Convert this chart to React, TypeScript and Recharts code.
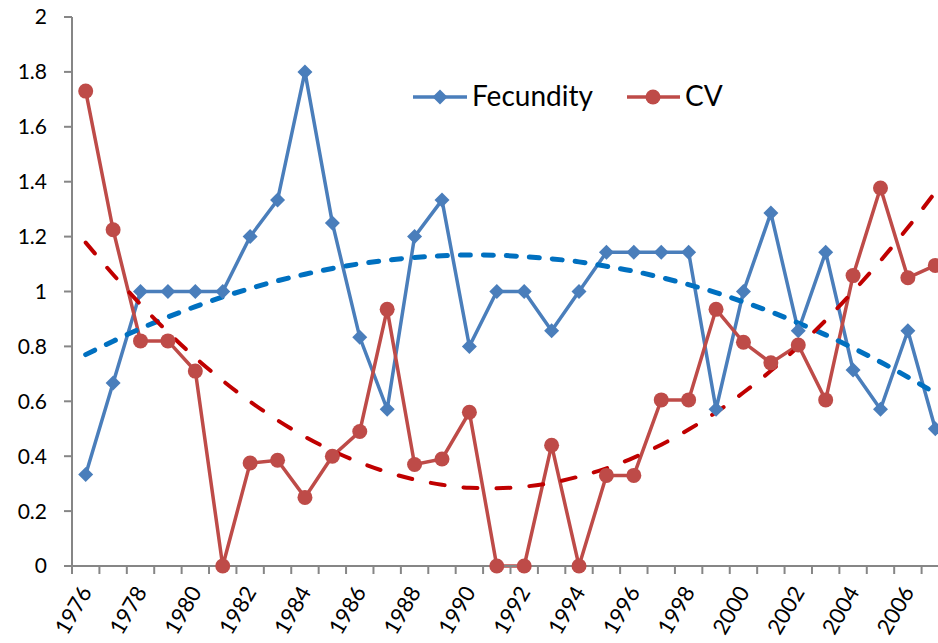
import React from "react";
import { LineChart, Line, XAxis, YAxis } from "recharts";

const YEARS = [
  1976, 1977, 1978, 1979, 1980, 1981, 1982, 1983, 1984, 1985, 1986, 1987, 1988, 1989, 1990, 1991,
  1992, 1993, 1994, 1995, 1996, 1997, 1998, 1999, 2000, 2001, 2002, 2003, 2004, 2005, 2006, 2007,
];

const FECUNDITY = [
  0.333, 0.667, 1.0, 1.0, 1.0, 1.0, 1.2, 1.333, 1.8, 1.25, 0.833, 0.571, 1.2, 1.333, 0.8, 1.0,
  1.0, 0.857, 1.0, 1.143, 1.143, 1.143, 1.143, 0.571, 1.0, 1.286, 0.857, 1.143, 0.714, 0.571, 0.857, 0.5,
];

const CV = [
  1.73, 1.225, 0.82, 0.82, 0.71, 0, 0.375, 0.385, 0.25, 0.4, 0.49, 0.935, 0.37, 0.39, 0.56, 0,
  0, 0.44, 0, 0.33, 0.33, 0.605, 0.605, 0.935, 0.815, 0.74, 0.805, 0.605, 1.058, 1.377, 1.05, 1.095,
];

// dashed trend lines
const FECUNDITY_TREND = [
  0.77, 0.819, 0.865, 0.907, 0.945, 0.98, 1.011, 1.039, 1.063, 1.084, 1.101, 1.114, 1.124, 1.13, 1.133, 1.132,
  1.127, 1.119, 1.108, 1.092, 1.074, 1.051, 1.025, 0.996, 0.962, 0.926, 0.885, 0.842, 0.794, 0.743, 0.688, 0.63,
];

const CV_TREND = [
  1.178, 1.062, 0.953, 0.852, 0.759, 0.675, 0.599, 0.531, 0.471, 0.42, 0.377, 0.342, 0.315, 0.296, 0.285, 0.283,
  0.289, 0.303, 0.326, 0.356, 0.395, 0.442, 0.497, 0.56, 0.632, 0.711, 0.799, 0.895, 1.0, 1.112, 1.233, 1.362,
];

const X_LABELS = [
  "1976", "1978", "1980", "1982", "1984", "1986", "1988", "1990",
  "1992", "1994", "1996", "1998", "2000", "2002", "2004", "2006",
];

const Y_TICKS = [0, 0.2, 0.4, 0.6, 0.8, 1, 1.2, 1.4, 1.6, 1.8, 2];

const BLUE = "#4A7EBB";
const RED = "#BE4B48";
const AXIS = "#868686";
const FONT = "Lato, 'Noto Sans', sans-serif";

const CHART_W = 949;
const CHART_H = 643;
const Y_AXIS_W = 72;
const BAND = (CHART_W - Y_AXIS_W) / YEARS.length;

const data = YEARS.map((year, i) => ({
  year,
  fecundity: FECUNDITY[i],
  cv: CV[i],
  fecTrend: FECUNDITY_TREND[i],
  cvTrend: CV_TREND[i],
}));

// tick marks sit between categories, like the original
const boundaries = [...YEARS.map((y) => y - 0.5), YEARS[YEARS.length - 1] + 0.5];

function YearTick({ x, y, payload }: any) {
  const label = String(payload.value + 0.5);
  if (!X_LABELS.includes(label)) return <g />;
  const tx = x + BAND / 2 + 7;
  const ty = y + 18;
  return (
    <text
      x={tx}
      y={ty}
      textAnchor="end"
      transform={`rotate(-60 ${tx} ${ty})`}
      fontSize={22}
      fontFamily={FONT}
      fill="#000"
    >
      {label}
    </text>
  );
}

function diamond(p: any) {
  const { cx, cy, index } = p;
  if (cx == null || cy == null) return <g key={index} />;
  const s = 7.5;
  return (
    <polygon
      key={index}
      points={`${cx},${cy - s} ${cx + s},${cy} ${cx},${cy + s} ${cx - s},${cy}`}
      fill={BLUE}
    />
  );
}

function LegendBox() {
  return (
    <svg
      width={330}
      height={40}
      style={{ position: "absolute", left: 410, top: 78, overflow: "visible" }}
    >
      <line x1={3} y1={19} x2={57} y2={19} stroke={BLUE} strokeWidth={3.5} />
      <polygon points="30,11.5 37.5,19 30,26.5 22.5,19" fill={BLUE} />
      <text x={62} y={28} fontSize={28} fontFamily={FONT} fill="#000">
        Fecundity
      </text>
      <line x1={217} y1={19} x2={270} y2={19} stroke={RED} strokeWidth={3.5} />
      <circle cx={243} cy={19} r={7.5} fill={RED} />
      <text x={275} y={28} fontSize={28} fontFamily={FONT} fill="#000">
        CV
      </text>
    </svg>
  );
}

export default function App() {
  return (
    <div
      style={{
        position: "fixed",
        left: 0,
        top: 0,
        width: 938,
        height: 643,
        overflow: "hidden",
        background: "#fff",
        fontFamily: FONT,
      }}
    >
      <LineChart width={CHART_W} height={CHART_H} data={data} margin={{ top: 17, right: 0, left: 0, bottom: 0 }}>
        <XAxis
          dataKey="year"
          type="number"
          domain={[YEARS[0] - 0.5, YEARS[YEARS.length - 1] + 0.5]}
          ticks={boundaries}
          interval={0}
          height={77}
          tickSize={8}
          tickMargin={0}
          tick={<YearTick />}
          axisLine={{ stroke: AXIS, strokeWidth: 2 }}
          tickLine={{ stroke: AXIS, strokeWidth: 2 }}
        />
        <YAxis
          domain={[0, 2]}
          ticks={Y_TICKS}
          interval={0}
          width={Y_AXIS_W}
          tickSize={8}
          tickMargin={17}
          tickFormatter={(v: number) => String(Number(v.toFixed(1)))}
          tick={{ fontSize: 21, fill: "#000", fontFamily: FONT }}
          axisLine={{ stroke: AXIS, strokeWidth: 2 }}
          tickLine={{ stroke: AXIS, strokeWidth: 2 }}
        />
        <Line
          dataKey="fecundity"
          type="linear"
          stroke={BLUE}
          strokeWidth={3.5}
          dot={diamond}
          activeDot={false}
          isAnimationActive={false}
        />
        <Line
          dataKey="cv"
          type="linear"
          stroke={RED}
          strokeWidth={3.5}
          dot={{ r: 7.5, fill: RED, stroke: RED, strokeWidth: 0 }}
          activeDot={false}
          isAnimationActive={false}
        />
        <Line
          dataKey="fecTrend"
          type="monotone"
          stroke="#0070C0"
          strokeWidth={5}
          strokeDasharray="10 13"
          strokeLinecap="round"
          dot={false}
          activeDot={false}
          isAnimationActive={false}
        />
        <Line
          dataKey="cvTrend"
          type="monotone"
          stroke="#C00000"
          strokeWidth={4}
          strokeDasharray="14 19"
          strokeLinecap="round"
          dot={false}
          activeDot={false}
          isAnimationActive={false}
        />
      </LineChart>
      <LegendBox />
    </div>
  );
}
